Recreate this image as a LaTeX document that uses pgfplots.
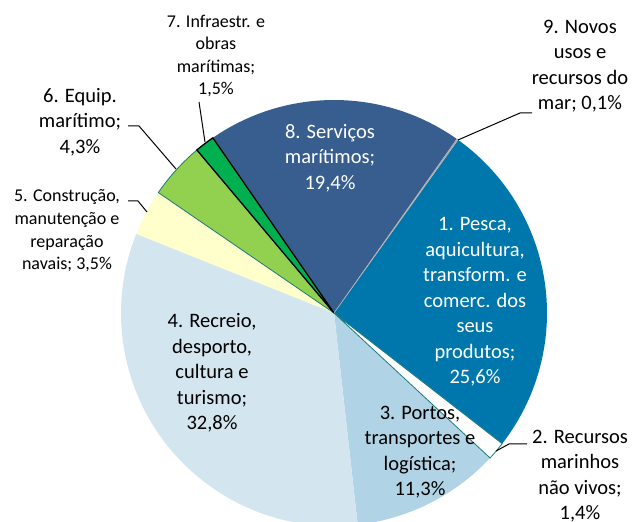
\documentclass[border=0pt]{standalone}
\usepackage{pgfplots}
\pgfplotsset{compat=1.18}
\usepackage{pgfplotstable}
\usepackage{fontspec}
\setmainfont{Carlito}
\definecolor{c1}{HTML}{0077AC}
\definecolor{c3}{HTML}{B0D4E5}
\definecolor{c4}{HTML}{D3E6F0}
\definecolor{c5}{HTML}{FFFFCC}
\definecolor{c6}{HTML}{92D050}
\definecolor{c7}{HTML}{00B050}
\definecolor{c8}{HTML}{375E8F}
\definecolor{cteal}{HTML}{1A7C7C}
\definecolor{c9}{HTML}{A0A0A0}
\pgfplotstableread{
pct
25.6
1.4
11.3
32.8
3.5
4.3
1.5
19.4
0.1
}\piedata
\tikzset{
 fill0/.style={fill=c1}, edge0/.style={},
 fill1/.style={fill=white}, edge1/.style={draw=cteal,line width=0.8pt},
 fill2/.style={fill=c3}, edge2/.style={},
 fill3/.style={fill=c4}, edge3/.style={},
 fill4/.style={fill=c5}, edge4/.style={},
 fill5/.style={fill=c6}, edge5/.style={draw=cteal,line width=0.8pt},
 fill6/.style={fill=c7}, edge6/.style={draw=black,line width=1.3pt},
 fill7/.style={fill=c8}, edge7/.style={},
 fill8/.style={fill=c9}, edge8/.style={draw=gray!60,line width=0.6pt},
 lbl/.style={align=center,inner sep=0pt,font=\fontsize{20.5}{25.5}\selectfont},
 slbl/.style={align=center,inner sep=0pt,font=\fontsize{18}{22.6}\selectfont},
 lead/.style={draw=black,line width=1pt},
}
\begin{document}
\begin{tikzpicture}
\useasboundingbox (0,0) rectangle (635pt,522pt);
\begin{axis}[at={(0,0)},anchor=south west,scale only axis,width=635pt,height=522pt,
  xmin=0,xmax=635,ymin=0,ymax=522,hide axis]
\addplot[draw=none] coordinates {(0,0) (635,522)};
\pgfplotsextra{
 \pgfplotstablegetrowsof{\piedata}
 \pgfmathtruncatemacro\nrows{\pgfplotsretval-1}
 \gdef\tot{0}
 \foreach \i in {0,...,\nrows}{
   \pgfplotstablegetelem{\i}{pct}\of\piedata
   \pgfmathsetmacro\tt{\tot+\pgfplotsretval}\xdef\tot{\tt}
 }
 \gdef\cum{0}
 \foreach \i in {0,...,\nrows}{
   \pgfplotstablegetelem{\i}{pct}\of\piedata
   \let\pv\pgfplotsretval
   \pgfmathsetmacro\sa{54.4-\cum/\tot*360}
   \pgfmathsetmacro\ea{\sa-\pv/\tot*360}
   \fill[fill\i] (axis cs:334,209) -- ++(\sa:213pt) arc[start angle=\sa,end angle=\ea,radius=213pt] -- cycle;
   \pgfmathsetmacro\cc{\cum+\pv}\xdef\cum{\cc}
 }
 \gdef\cum{0}
 \foreach \i in {0,...,\nrows}{
   \pgfplotstablegetelem{\i}{pct}\of\piedata
   \let\pv\pgfplotsretval
   \pgfmathsetmacro\sa{54.4-\cum/\tot*360}
   \pgfmathsetmacro\ea{\sa-\pv/\tot*360}
   \path[edge\i,line join=miter] (axis cs:334,209) -- ++(\sa:213pt) arc[start angle=\sa,end angle=\ea,radius=213pt] -- cycle;
   \pgfmathsetmacro\cc{\cum+\pv}\xdef\cum{\cc}
 }
}
% leader lines
\draw[lead] (axis cs:458,382) -- (axis cs:520,409) -- (axis cs:532,409);
\draw[lead] (axis cs:205,380) -- (axis cs:199,420);
\draw[lead] (axis cs:176,353) -- (axis cs:139,396) -- (axis cs:128,396);
\draw[lead] (axis cs:147,310) -- (axis cs:138,321) -- (axis cs:128,321);
\draw[lead] (axis cs:496,71) -- (axis cs:509,78) -- (axis cs:527,78);
% labels
\node[lbl,text=white] at (axis cs:330,364) {8. Serviços\\marítimos;\\19,4\%};
\node[lbl,text=white] at (axis cs:475,220) {1. Pesca,\\aquicultura,\\transform. e\\comerc. dos\\seus\\produtos;\\25,6\%};
\node[lbl] at (axis cs:420,70) {3. Portos,\\transportes e\\logística;\\11,3\%};
\node[lbl] at (axis cs:580,46) {2. Recursos\\marinhos\\não vivos;\\1,4\%};
\node[lbl] at (axis cs:212,149) {4. Recreio,\\desporto,\\cultura e\\turismo;\\32,8\%};
\node[slbl] at (axis cs:67,291) {5. Construção,\\manutenção e\\reparação\\navais; 3,5\%};
\node[lbl] at (axis cs:80,400) {6. Equip.\\marítimo;\\4,3\%};
\node[slbl] at (axis cs:216,466) {7. Infraestr. e\\obras\\marítimas;\\1,5\%};
\node[lbl] at (axis cs:580,456) {9. Novos\\usos e\\recursos do\\mar; 0,1\%};
\end{axis}
\end{tikzpicture}
\end{document}
